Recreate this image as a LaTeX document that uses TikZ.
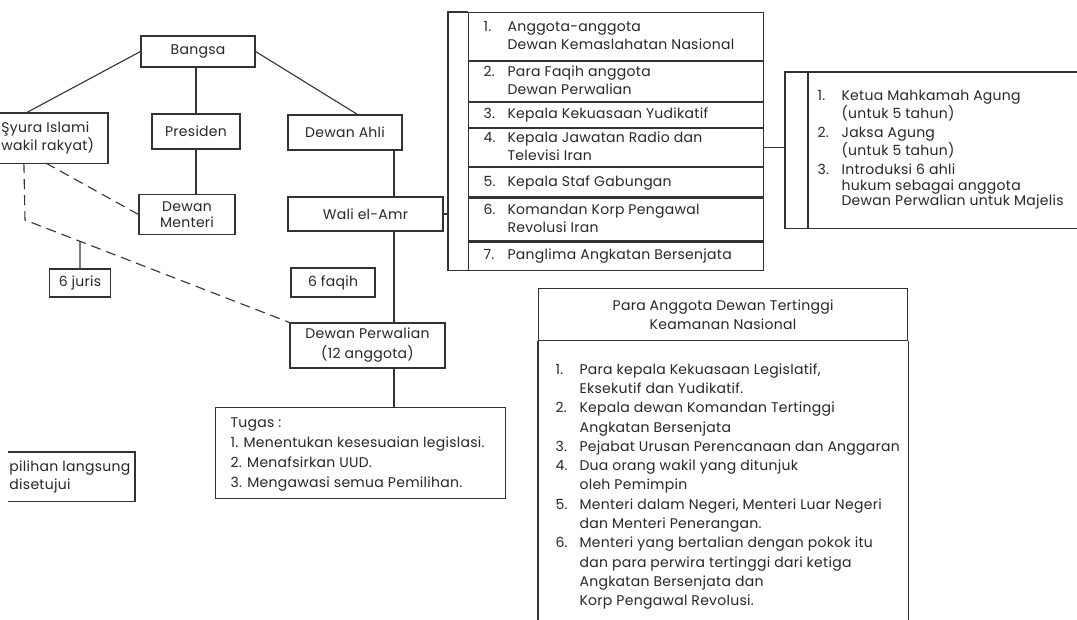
\documentclass[tikz,border=0pt]{standalone}
\usepackage{fontspec}
\setmainfont{Poppins}[LetterSpace=2]

\newcommand{\numtab}[1]{\makebox[24pt][l]{#1}}
\newcommand{\numgap}{\hspace*{24pt}}
\newcommand{\lines}[2]{\makebox[#1][l]{\begin{tabular}{@{}l@{}}#2\end{tabular}}}

\begin{document}
\begin{tikzpicture}[x=1pt,y=-1pt,line width=1.1pt,color=black!80,
  every node/.style={text=black!85,font=\fontsize{14}{18}\selectfont},
  box/.style={draw,align=center,inner sep=0pt},
  listrow/.style={draw,anchor=north west,minimum width=295pt,inner xsep=15pt,inner ysep=0pt},
  dashlink/.style={dash pattern=on 10pt off 6pt}]
  \path[use as bounding box,clip] (0,0) rectangle (1077,620);

  \node[box,minimum width=114pt,minimum height=31pt] (bangsa) at (198,51.5) {Bangsa};
  \node[anchor=north east,inner xsep=2pt,inner ysep=0pt,minimum height=49pt] (syura) at (108,113)
    {\lines{104pt}{Şyura Islami\\wakil rakyat)}};
  \node[box,minimum width=88pt,minimum height=35pt] (presiden) at (196,131.5) {Presiden};
  \node[box,minimum width=114pt,minimum height=35pt] (dewanahli) at (345,132.5) {Dewan Ahli};
  \node[box,minimum width=96pt,minimum height=40pt,font=\fontsize{14}{16}\selectfont]
    (menteri) at (187,214.5) {Dewan\\Menteri};
  \node[box,minimum width=155pt,minimum height=34pt] (wali) at (365.5,214) {Wali el-Amr};
  \node[box,minimum width=61pt,minimum height=28pt] (juris) at (80,283) {6 juris};
  \node[box,minimum width=84pt,minimum height=29pt] (faqih) at (333,282.5) {6 faqih};
  \node[box,minimum width=155pt,minimum height=45pt,font=\fontsize{14}{20}\selectfont]
    (perwalian) at (367.5,345.5) {Dewan Perwalian\\(12 anggota)};
  \node[draw,anchor=north west,inner xsep=15pt,inner ysep=0pt,minimum height=91pt,
    font=\fontsize{14}{20}\selectfont] (tugas) at (215,407)
    {\lines{260pt}{Tugas :\\1. Menentukan kesesuaian legislasi.\\2. Menafsirkan UUD.\\3. Mengawasi semua Pemilihan.}};
  \node[anchor=north east,inner xsep=1pt,inner ysep=0pt,minimum height=48pt] (pilihan) at (135,452)
    {\lines{124pt}{pilihan langsung\\disetujui}};

  \draw (syura.north west) -- (syura.north east) -- (syura.south east) -- (syura.south west);
  \draw (pilihan.north west) -- (pilihan.north east) -- (pilihan.south east) -- (pilihan.south west);

  \coordinate (spine) at (394,0);
  \coordinate (bend) at (25,220);
  \draw (bangsa.west) -- ([xshift=27pt]syura.north west);
  \draw (bangsa.east) -- ([xshift=70pt]dewanahli.north west);
  \draw (bangsa.south -| presiden.north) -- (presiden.north);
  \draw (presiden.south) -- (presiden.south |- menteri.north);
  \draw (dewanahli.south -| spine) -- (wali.north -| spine);
  \draw (wali.south -| spine) -- (perwalian.north -| spine);
  \draw (perwalian.south -| spine) -- (tugas.north -| spine);
  \draw[dashlink] ([xshift=47pt]syura.south west) -- (menteri.west);
  \draw[dashlink] ([xshift=25pt]syura.south west) -- (bend) -- (perwalian.north west);
  \draw (juris.north) -- (intersection of bend--perwalian.north west and juris.north--juris.south);

  \node[listrow,minimum height=48pt] (r1) at (468,12)
    {\lines{265pt}{\numtab{1.}Anggota-anggota\\ \numgap Dewan Kemaslahatan Nasional}};
  \node[listrow,minimum height=40pt] (r2) at (r1.south west)
    {\lines{265pt}{\numtab{2.}Para Faqih anggota\\ \numgap Dewan Perwalian}};
  \node[listrow,minimum height=25pt] (r3) at (r2.south west)
    {\lines{265pt}{\numtab{3.}Kepala Kekuasaan Yudikatif}};
  \node[listrow,minimum height=38pt] (r4) at (r3.south west)
    {\lines{265pt}{\numtab{4.}Kepala Jawatan Radio dan\\ \numgap Televisi Iran}};
  \node[listrow,minimum height=29pt] (r5) at (r4.south west)
    {\lines{265pt}{\numtab{5.}Kepala Staf Gabungan}};
  \node[listrow,minimum height=43pt] (r6) at (r5.south west)
    {\lines{265pt}{\numtab{6.}Komandan Korp Pengawal\\ \numgap Revolusi Iran}};
  \node[listrow,minimum height=28pt] (r7) at (r6.south west)
    {\lines{265pt}{\numtab{7.}Panglima Angkatan Bersenjata}};

  \coordinate (lbrack) at (448,0);
  \draw (r1.north west) -- (r1.north west -| lbrack) -- (r7.south west -| lbrack) -- (r7.south west);
  \draw (wali.east) -- (wali.east -| lbrack);

  \node[anchor=north west,inner xsep=9pt,inner ysep=0pt,minimum height=155pt,
    font=\fontsize{14}{15.5}\selectfont] (rbox) at (808,72)
    {\lines{300pt}{\numtab{1.}Ketua Mahkamah Agung\\ \numgap(untuk 5 tahun)\\[4pt]
     \numtab{2.}Jaksa Agung\\ \numgap(untuk 5 tahun)\\[4pt]
     \numtab{3.}Introduksi 6 ahli\\ \numgap hukum sebagai anggota\\ \numgap Dewan Perwalian untuk Majelis}};
  \draw (rbox.north east) -- (rbox.north west) -- (rbox.south west) -- (rbox.south east);

  \coordinate (rbrack) at (785,0);
  \draw (rbox.north west) -- (rbox.north west -| rbrack) -- (rbox.south west -| rbrack) -- (rbox.south west);
  \draw (r4.east) -- (r4.east -| rbrack);

  \coordinate (lowedge) at (0,640);
  \node[box,anchor=north west,minimum width=369pt,minimum height=52pt,
    font=\fontsize{14}{19}\selectfont] (kamhead) at (538,288)
    {Para Anggota Dewan Tertinggi\\Keamanan Nasional};
  \node[anchor=north west,inner xsep=17pt,inner ysep=19pt,
    font=\fontsize{14}{19.3}\selectfont] (kambody) at (kamhead.south west)
    {\lines{335pt}{\numtab{1.}Para kepala Kekuasaan Legislatif,\\ \numgap Eksekutif dan Yudikatif.\\
     \numtab{2.}Kepala dewan Komandan Tertinggi\\ \numgap Angkatan Bersenjata\\
     \numtab{3.}Pejabat Urusan Perencanaan dan Anggaran\\
     \numtab{4.}Dua orang wakil yang ditunjuk\\ \numgap oleh Pemimpin\\
     \numtab{5.}Menteri dalam Negeri, Menteri Luar Negeri\\ \numgap dan Menteri Penerangan.\\
     \numtab{6.}Menteri yang bertalian dengan pokok itu\\ \numgap dan para perwira tertinggi dari ketiga\\
     \numgap Angkatan Bersenjata dan\\ \numgap Korp Pengawal Revolusi.}};
  \draw (kamhead.south west) -- (kamhead.south west |- lowedge);
  \draw (kamhead.south east) -- (kamhead.south east |- lowedge);
\end{tikzpicture}
\end{document}
